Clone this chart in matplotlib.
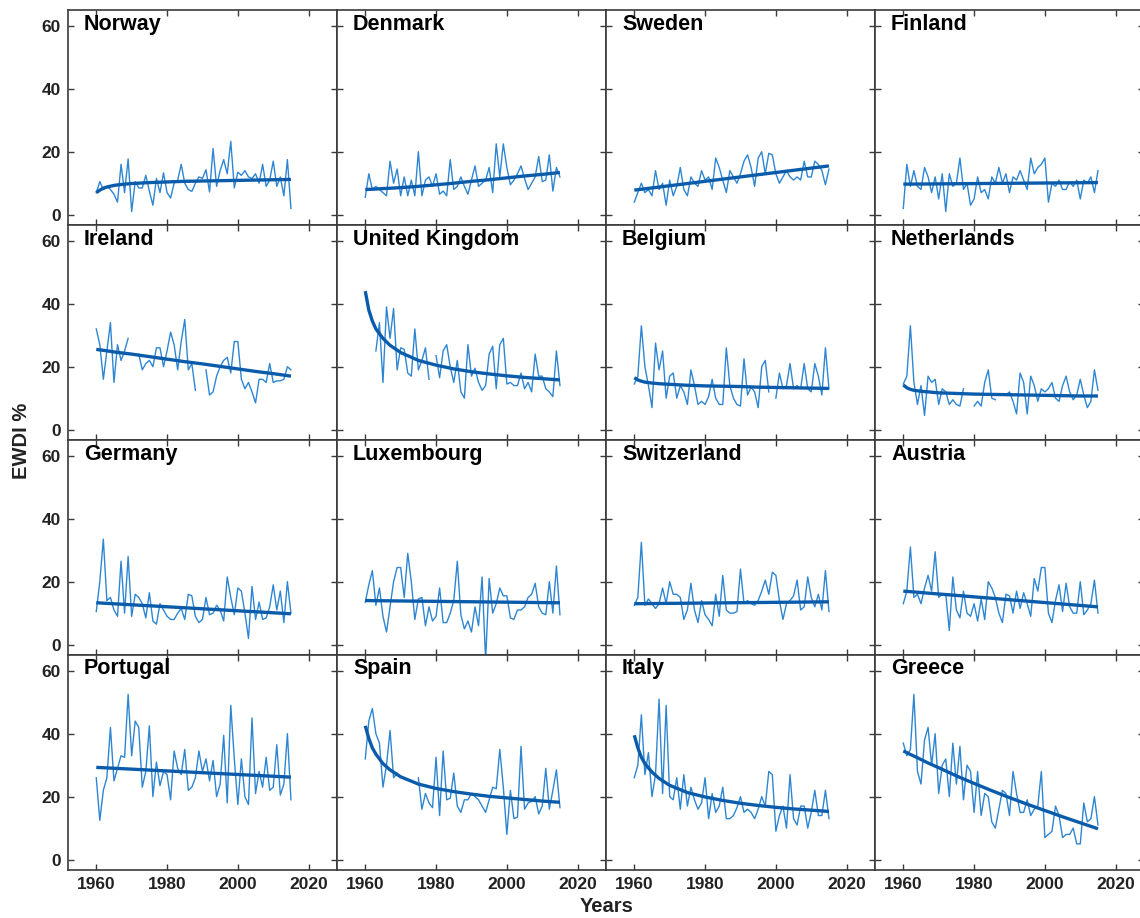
import numpy as np
import matplotlib
matplotlib.use("Agg")
import matplotlib.pyplot as plt

plt.rcParams['font.family'] = ['Liberation Sans', 'DejaVu Sans']
plt.rcParams['font.weight'] = 'bold'

nan = np.nan
START_YEAR = 1960

countries = ["Norway", "Denmark", "Sweden", "Finland",
             "Ireland", "United Kingdom", "Belgium", "Netherlands",
             "Germany", "Luxembourg", "Switzerland", "Austria",
             "Portugal", "Spain", "Italy", "Greece"]

# yearly EWDI % values, 1960-2015
norway = [7, 10.5, 8, 9, 8, 6.5, 4, 16, 7, 17.7,
          1, 10.5, 8.5, 8.5, 12.5, 7.5, 3, 11.5, 7, 13.3,
          7, 5.3, 10, 11, 16, 10, 8, 7.4, 10, 12,
          11.5, 14.3, 7.2, 21, 9, 14, 17.5, 13, 23.3, 8.5,
          13.5, 12.5, 14, 12, 11.5, 13, 10, 16, 9, 11,
          17, 9, 12, 6, 17.5, 2]
denmark = [5.5, 13, 8, 9, 8, 7, 6, 17, 10, 14.5,
           6, 12, 6, 11, 6, 20, 6, 11, 12, 9,
           13, 6.5, 7.5, 6, 17.5, 8, 9, 12, 9, 6.5,
           11, 15.5, 9, 10, 11, 15, 7, 22.5, 12, 22.5,
           15, 9.5, 11, 13, 15.5, 11.5, 8, 10, 12, 18.5,
           10.5, 11, 19, 7.5, 15, 12]
sweden = [4, 7, 10, 7, 8, 6, 14, 8, 10, 3,
          11, 6, 9, 15, 8, 6, 12, 10, 9, 14,
          11, 12, 8, 18, 15, 11, 7, 14, 12, 10,
          13, 17, 19, 15, 9, 18, 20, 13, 19.5, 19,
          13, 10, 12, 14, 12, 11, 12, 11, 17, 12,
          12, 17, 16, 14, 9.5, 14.5]
finland = [2, 16, 9, 14, 9, 8, 15, 12, 7, 12,
           5, 13, 1, 13, 9, 10, 18, 8, 10, 3,
           5, 12, 7, 8, 5, 12, 10, 15, 10, 13,
           7, 12, 11, 14, 11, 8, 18, 13, 15, 16,
           18, 4, 10, 9, 11, 8, 8, 10.5, 9, 11,
           5, 11, 10, 12, 7, 14]
ireland = [32, 27, 16, 25, 34, 15, 27, 22, 25, 29,
           nan, nan, 24, 19, 21, 22, 20, 26, 26, 20,
           25, 31, 27, 19, 28, 35, 19, 21, 12.5, nan,
           nan, 19, 11, 12, 17, 20, 22, 23, 18, 28,
           28, 16, 13, 15, 12, 8.5, 16, 16, 15, 21,
           15, 15.5, 15.5, 16, 20, 19]
uk = [nan, nan, nan, 25, 34, 15, 39, 29, 38.5, 19,
      26, 25.5, 18, 17, 32, 19, 22, 26, 16, nan,
      23.5, 16.5, 25, 27, 20, 15, 22, 12, 10, 27,
      17, 19.5, 15, 12.5, 14, 24, 26.5, 13, 27, 29,
      14.5, 15, 14, 14, 18, 13, 15, 12, 24, 17,
      17, 13, 12, 10.5, 25, 14]
belgium = [14.5, 17, 33, 20, 14, 7, 27.5, 19, 25, 10,
           17, 18, 10, 14, 12, 8, 19, 14, 8, 9,
           8, 10.5, 16, 10, 8, 8, 26, 14, 10, 8,
           7.5, 22.5, 11, 13.5, 12, 7, 20, 22, 12, nan,
           10, 18, 13, 14, 21, 13, 14, 13, 21, 13,
           12, 21, 17, 11, 26, 13]
netherlands = [14.5, 17, 33, 15, 8, 14, 4.5, 17, 15, 16,
               8, 13, 12, 8, 9.5, 8, 7.5, 13, nan, nan,
               7.5, 9, 7.5, 15, 19, 10, 9.5, nan, 11, 11,
               12, 9, 5, 18, 15, 5, 17, 14, 9, 13,
               12, 13, 15, 10, 9, 14, 17, 12, 9.5, 11,
               16, 11, 7, 9, 19, 12.5]
germany = [10.5, 20, 33.5, 14, 15, 11, 9, 26.5, 10, 28,
           9, 16, 15, 13, 8.5, 16.5, 7.5, 6.5, 13, 11,
           9, 8, 8, 10, 11.5, 8, 16, 15.5, 9, 7,
           8, 15, 9.5, 10, 12.5, 11, 7.5, 21.5, 15, 9.5,
           18, 17, 10, 2, 18.5, 8, 13.5, 8, 8.5, 12,
           19, 11, 17, 7, 20, 10]
luxembourg = [13.5, 19, 23.5, 12.5, 18, 9, 4, 12, 20, 24.5,
              24.5, 15, 29, 20, 8, 14.5, 15, 6, 12, 7.5,
              9, 18, 7, 7, 10, 14, 26.5, 9.5, 5, 7.5,
              4, 12, 6, 21.5, -5, 21, 10, 13, 18, 15.5,
              15.5, 8.5, 8, 11, 11, 12, 15, 16, 19.5, 12,
              10, 9.5, 20, 10, 25, 9.5]
switzerland = [12.5, 15, 32.5, 12.5, 14.5, 13, 11.5, 13, 18, 13,
               20, 16, 16, 15, 8, 11, 19.5, 11, 7, 14,
               9.5, 8, 6, 16, 9, 22, 11, 10, 10, 10.5,
               24, 13, 14, 13, 12.5, 14, 17, 20.5, 16, 23,
               22, 14, 8, 13, 14, 15.5, 20.5, 11, 12, 21.5,
               15, 12, 16, 11, 23.5, 10.5]
austria = [13, 17, 31, 15, 16, 13, 18, 22, 17, 29.5,
           15, 16, 16, 4.5, 21.5, 11, 8.5, 17, 10, 9,
           13, 7.5, 14.5, 8, 20, 18, 15, 10, 7, 16,
           15.5, 10, 17, 11.5, 16.5, 13, 9, 21, 17, 24.5,
           24.5, 10, 7, 14, 19, 10.5, 19.5, 12, 10, 10,
           20, 9.5, 11, 13, 20.5, 10]
portugal = [26, 12.5, 22, 26, 42, 25, 29, 33, 32.5, 52.5,
            33, 44, 42, 23, 28, 42.5, 20, 31, 23.5, 28,
            27, 19, 34.5, 29, 27, 35, 22, 23, 26, 34.5,
            28, 32, 25, 31.5, 20, 24, 39.5, 18, 49, 32,
            17.5, 32, 20, 17.5, 45, 21, 28, 23, 32.5, 22,
            23, 36.5, 20.5, 24, 40, 19]
spain = [32, 44, 48, 40, 37, 23, 30, 41, 26, 27.5,
         nan, nan, nan, nan, nan, 26, 16, 21, 18, 16.5,
         32.5, 14, 34.5, 19, 19.5, 27.5, 17, 15, 19, 19,
         21, 20, 19, 17, 15, 19, 23, 22.5, 35, 23,
         8, 22, 13, 13.5, 36, 16, 18, 18.5, 20, 14.5,
         17, 29, 16, 22, 28.5, 16.5]
italy = [26, 30, 46, 27, 34, 20, 27, 51, 21, 49,
         20, 19, 26, 16, 27, 17, 23, 19, 16, 18,
         26, 13, 21, 15, 17, 23, 13, 13, 14, 16.5,
         20, 15, 16, 15, 13, 16, 20, 17, 28, 27,
         9, 14, 17, 10, 27, 13, 11, 17, 17, 10,
         15, 22, 14, 14, 22, 13]
greece = [37, 33, 35, 52.5, 28, 24, 38, 42, 30, 40,
          21, 30, 32, 20, 37, 24, 36, 19, 30, 28,
          15, 28, 14, 21, 20, 12, 10, 16, 22, 21,
          14, 28, 21, 15, 15, 19, 14, 16, 17, 28,
          7, 8, 9, 17, 14, 7, 8, 8, 10, 5,
          5, 18, 12, 13, 20, 11]

# fitted trend read at these years
trend_years = [1960, 1961, 1962, 1963, 1965, 1967, 1970, 1975, 1980,
               1985, 1990, 1995, 2000, 2005, 2010, 2015]
tr_norway = [7.0, 7.8, 8.4, 8.8, 9.3, 9.6, 9.9, 10.2, 10.4, 10.6, 10.7, 10.8, 10.9, 11.0, 11.1, 11.2]
tr_denmark = [8.0, 8.05, 8.1, 8.15, 8.3, 8.4, 8.6, 9.0, 9.5, 10.0, 10.6, 11.1, 11.7, 12.3, 12.8, 13.4]
tr_sweden = [7.8, 7.94, 8.08, 8.22, 8.5, 8.78, 9.2, 9.9, 10.6, 11.3, 12.0, 12.7, 13.4, 14.1, 14.8, 15.5]
tr_finland = [9.7, 9.71, 9.72, 9.73, 9.74, 9.76, 9.79, 9.84, 9.88, 9.93, 9.97, 10.02, 10.06, 10.11, 10.15, 10.2]
tr_ireland = [25.5, 25.35, 25.2, 25.05, 24.7, 24.4, 24.0, 23.2, 22.4, 21.6, 20.9, 20.1, 19.3, 18.5, 17.8, 17.0]
tr_uk = [44, 38, 34.5, 32, 29, 26.8, 24.5, 22, 20.5, 19.3, 18.4, 17.7, 17.1, 16.6, 16.2, 15.8]
tr_belgium = [16.5, 15.8, 15.4, 15.1, 14.8, 14.6, 14.4, 14.1, 13.9, 13.8, 13.7, 13.5, 13.4, 13.3, 13.2, 13.1]
tr_netherlands = [14.2, 13.3, 12.8, 12.5, 12.2, 12.0, 11.7, 11.5, 11.3, 11.2, 11.1, 11.0, 10.9, 10.8, 10.7, 10.7]
tr_germany = [13.3, 13.24, 13.17, 13.11, 12.98, 12.85, 12.66, 12.35, 12.03, 11.71, 11.39, 11.07, 10.75, 10.44, 10.12, 9.8]
tr_luxembourg = [14.0, 13.99, 13.97, 13.96, 13.94, 13.91, 13.87, 13.81, 13.75, 13.68, 13.62, 13.55, 13.49, 13.43, 13.36, 13.3]
tr_switzerland = [13.0, 13.01, 13.02, 13.03, 13.05, 13.08, 13.11, 13.16, 13.22, 13.27, 13.33, 13.38, 13.44, 13.49, 13.55, 13.6]
tr_austria = [17.0, 16.91, 16.82, 16.73, 16.55, 16.36, 16.09, 15.64, 15.18, 14.73, 14.27, 13.82, 13.36, 12.91, 12.45, 12.0]
tr_portugal = [29.3, 29.24, 29.19, 29.13, 29.02, 28.91, 28.74, 28.45, 28.17, 27.89, 27.61, 27.33, 27.04, 26.76, 26.48, 26.2]
tr_spain = [42.5, 38.5, 35.5, 33.5, 30.5, 28.5, 26.3, 24.0, 22.6, 21.6, 20.8, 20.1, 19.6, 19.1, 18.6, 18.2]
tr_italy = [39.5, 35.5, 32.5, 30.5, 27.8, 25.8, 23.6, 21.3, 19.9, 18.8, 17.9, 17.2, 16.6, 16.1, 15.7, 15.3]
tr_greece = [34.5, 34.0, 33.4, 32.9, 31.8, 30.7, 29.2, 26.6, 24.2, 21.9, 19.7, 17.6, 15.6, 13.6, 11.7, 9.8]

series = [norway, denmark, sweden, finland, ireland, uk, belgium, netherlands,
          germany, luxembourg, switzerland, austria, portugal, spain, italy, greece]
trends = [tr_norway, tr_denmark, tr_sweden, tr_finland, tr_ireland, tr_uk,
          tr_belgium, tr_netherlands, tr_germany, tr_luxembourg, tr_switzerland,
          tr_austria, tr_portugal, tr_spain, tr_italy, tr_greece]

x_ticks = [1960, 1980, 2000, 2020]
y_ticks = [0, 20, 40, 60]

THIN = '#2E86D2'
THICK = '#0A5CAB'
SPINE = '#3a3a3a'

fig = plt.figure(figsize=(11.4, 9.18), dpi=100)
axes = fig.subplots(4, 4, sharex=True, sharey=True,
                    gridspec_kw=dict(left=0.0596, right=1.0035, top=0.989,
                                     bottom=0.0523, wspace=0, hspace=0))

for i, ax in enumerate(axes.flat):
    vals = np.array(series[i], dtype=float)
    yrs = np.arange(START_YEAR, START_YEAR + len(vals))
    ax.plot(yrs, vals, color=THIN, lw=1.0, zorder=2)
    ax.plot(trend_years, trends[i], color=THICK, lw=2.4, zorder=3,
            solid_capstyle='butt')
    ax.text(0.06, 0.935, countries[i], transform=ax.transAxes,
            fontsize=15.5, fontweight='bold', ha='left', va='center',
            color='black')
    ax.set_xlim(1952, 2028)
    ax.set_ylim(-3.3, 65)
    ax.set_xticks(x_ticks)
    ax.set_yticks(y_ticks)
    ax.tick_params(direction='in', top=True, right=True, length=4.5,
                   width=1.0, color=SPINE, labelsize=12.5, pad=5,
                   labelcolor='#222222')
    for lab in ax.get_xticklabels() + ax.get_yticklabels():
        lab.set_fontweight('bold')
    for sp in ax.spines.values():
        sp.set_color(SPINE)
        sp.set_linewidth(1.2)

fig.text(0.019, 0.52, 'EWDI %', rotation=90, ha='center', va='center',
         fontsize=14.5, fontweight='bold', color='#222222')
fig.text(0.532, 0.013, 'Years', ha='center', va='center',
         fontsize=14.5, fontweight='bold', color='#222222')

fig.savefig('out.png', dpi=100)
